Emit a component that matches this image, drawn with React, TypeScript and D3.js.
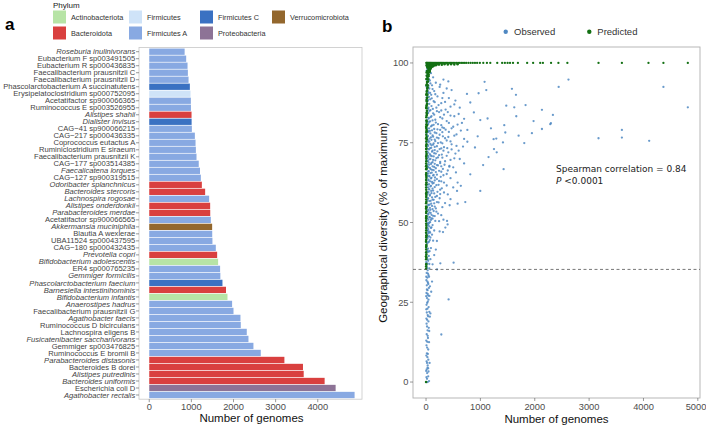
import React from "react";
import * as d3 from "d3";

// ---------- Panel a data ----------
const species: string[] = [
  "Roseburia inulinivorans", "Eubacterium F sp003491505", "Eubacterium R sp000436835",
  "Faecalibacterium prausnitzii C", "Faecalibacterium prausnitzii D",
  "Phascolarctobacterium A succinatutens", "Erysipelatoclostridium sp000752095",
  "Acetatifactor sp900066365", "Ruminococcus E sp003526955", "Alistipes shahii",
  "Dialister invisus", "CAG\u221241 sp900066215", "CAG\u2212217 sp000436335",
  "Coprococcus eutactus A", "Ruminiclostridium E siraeum", "Faecalibacterium prausnitzii K",
  "CAG\u2212177 sp003514385", "Faecalicatena lorques", "CAG\u2212127 sp900319515",
  "Odoribacter splanchnicus", "Bacteroides stercoris", "Lachnospira rogosae",
  "Alistipes onderdonkii", "Parabacteroides merdae", "Acetatifactor sp900066565",
  "Akkermansia muciniphila", "Blautia A wexlerae", "UBA11524 sp000437595",
  "CAG\u2212180 sp000432435", "Prevotella copri", "Bifidobacterium adolescentis",
  "ER4 sp000765235", "Gemmiger formicilis", "Phascolarctobacterium faecium",
  "Barnesiella intestinihominis", "Bifidobacterium infantis", "Anaerostipes hadrus",
  "Faecalibacterium prausnitzii G", "Agathobacter faecis", "Ruminococcus D bicirculans",
  "Lachnospira eligens B", "Fusicatenibacter saccharivorans", "Gemmiger sp003476825",
  "Ruminococcus E bromii B", "Parabacteroides distasonis", "Bacteroides B dorei",
  "Alistipes putredinis", "Bacteroides uniformis", "Escherichia coli D",
  "Agathobacter rectalis",
];
const genomes: number[] = [
  840, 877, 909, 917, 933, 964, 980, 988, 990, 1004,
  1006, 1012, 1083, 1099, 1107, 1122, 1175, 1205, 1225, 1249,
  1327, 1422, 1446, 1448, 1462, 1493, 1495, 1500, 1580, 1612,
  1635, 1682, 1688, 1738, 1822, 1857, 1967, 2000, 2165, 2173,
  2315, 2355, 2473, 2647, 3208, 3649, 3666, 4163, 4424, 4874,
];
const speciesPhylum: string[] = [
  "Firmicutes A", "Firmicutes A", "Firmicutes A", "Firmicutes A", "Firmicutes A",
  "Firmicutes C", "Firmicutes", "Firmicutes A", "Firmicutes A", "Bacteroidota",
  "Firmicutes C", "Firmicutes A", "Firmicutes A", "Firmicutes A", "Firmicutes A",
  "Firmicutes A", "Firmicutes A", "Firmicutes A", "Firmicutes A", "Bacteroidota",
  "Bacteroidota", "Firmicutes A", "Bacteroidota", "Bacteroidota", "Firmicutes A",
  "Verrucomicrobiota", "Firmicutes A", "Firmicutes A", "Firmicutes A", "Bacteroidota",
  "Actinobacteriota", "Firmicutes A", "Firmicutes A", "Firmicutes C", "Bacteroidota",
  "Actinobacteriota", "Firmicutes A", "Firmicutes A", "Firmicutes A", "Firmicutes A",
  "Firmicutes A", "Firmicutes A", "Firmicutes A", "Firmicutes A", "Bacteroidota",
  "Bacteroidota", "Bacteroidota", "Bacteroidota", "Proteobacteria", "Firmicutes A",
];
const italicSpecies: string[] = [
  "Roseburia inulinivorans", "Alistipes shahii", "Dialister invisus", "Faecalicatena lorques",
  "Odoribacter splanchnicus", "Bacteroides stercoris", "Lachnospira rogosae",
  "Alistipes onderdonkii", "Parabacteroides merdae", "Akkermansia muciniphila",
  "Prevotella copri", "Bifidobacterium adolescentis", "Gemmiger formicilis",
  "Phascolarctobacterium faecium", "Barnesiella intestinihominis", "Bifidobacterium infantis",
  "Anaerostipes hadrus", "Agathobacter faecis", "Fusicatenibacter saccharivorans",
  "Parabacteroides distasonis", "Alistipes putredinis", "Bacteroides uniformis",
  "Agathobacter rectalis",
];
const phyla: string[] = [
  "Actinobacteriota", "Bacteroidota", "Firmicutes", "Firmicutes A",
  "Firmicutes C", "Proteobacteria", "Verrucomicrobiota",
];
const phylaColors: string[] = [
  "#b7e4a6", "#d9403f", "#cfe3f8", "#88a9e2", "#3a71c2", "#8d7396", "#93672d",
];
const xTicksA: number[] = [0, 1000, 2000, 3000, 4000];

// ---------- Panel b data ----------
const obsSparse: [number, number][] = [
  [410, 94.2], [1077, 94.1], [1580, 91.9], [1108, 91.5], [753, 90.3], [2440, 92.5],
  [2620, 94.8], [1654, 90], [1476, 86.6], [1623, 86.1], [1831, 86.8], [2132, 85.3],
  [2334, 83.7], [1660, 83.3], [1978, 81.8], [2285, 80.8], [2132, 79.3], [1439, 80.5],
  [1132, 82.6], [998, 82.1], [814, 87.6], [967, 90.5], [1194, 79.5], [1458, 78.2],
  [1703, 77.2], [1948, 78], [1807, 74.9], [1415, 75.1], [1292, 76.3], [1243, 76.1],
  [4367, 92.5], [4816, 86.1], [2297, 81.1], [3603, 79], [3603, 76.6], [3173, 76.4],
  [4105, 75.6], [1427, 66.7], [998, 59.9], [814, 65.1], [722, 56.4], [581, 55.9],
  [570, 59.9], [581, 62.5], [507, 37.4], [202, 35.3], [263, 37.2], [415, 25.9],
  [281, 14.9], [1300, 72], [1150, 70.5], [900, 73.5], [1050, 68], [950, 77],
  [1250, 73], [434, 55.4], [386, 50.5], [397, 49.4], [355, 48.4], [312, 47],
  [428, 67.5], [640, 61.5], [700, 68.5], [760, 79], [880, 84.5],
];
const obsMid: [number, number][] = [
  [320, 94.8], [260, 93.2], [380, 92], [470, 91.5], [300, 89], [540, 88.2], [350, 87.8],
  [450, 86.3], [620, 86], [280, 85.1], [400, 84.6], [520, 83.3], [330, 83.8], [700, 82.5],
  [420, 81.2], [280, 80.5], [580, 80.7], [360, 79.1], [470, 79.5], [640, 78.8], [300, 78.3],
  [520, 77.2], [410, 76.8], [350, 76.4], [760, 75.3], [450, 75.4], [300, 74.8], [560, 74],
  [390, 73.3], [680, 73.8], [470, 72.9], [320, 72.5], [540, 71.6], [380, 70.9], [300, 70.3],
  [450, 69.6], [620, 69.9], [340, 68.1], [500, 67.3], [280, 67.6], [400, 66.3], [550, 65.7],
  [320, 64.8], [450, 63.9], [280, 62.9], [380, 61.6], [500, 61], [330, 59.4], [260, 58.9],
  [450, 57.3], [350, 56.1], [280, 52.3], [320, 50.9], [250, 47.2], [200, 44.2], [180, 41.5],
  [150, 39.8], [120, 36.9], [110, 31.5], [95, 28.3], [130, 44.3],
];
const obsCloud: [number, number][] = [
  [60, 97.5], [90, 96.8], [130, 95.5], [70, 94.5], [180, 93.8], [110, 93], [250, 92.5],
  [60, 92], [150, 91.2], [320, 90.6], [95, 90], [210, 89.5], [420, 89], [75, 88.6],
  [140, 88], [280, 87.4], [520, 87], [100, 86.5], [190, 86], [360, 85.4], [65, 85],
  [240, 84.6], [130, 84.2], [600, 84], [450, 83.5], [85, 83], [300, 82.6], [170, 82.2],
  [380, 81.8], [55, 81.5], [660, 81.2], [220, 80.8], [110, 80.4], [500, 80], [330, 79.6],
  [150, 79.3], [260, 79], [70, 78.7], [420, 78.4], [190, 78], [560, 77.6], [120, 77.3],
  [310, 77], [90, 76.7], [230, 76.4], [700, 76.2], [160, 76], [380, 75.7], [60, 75.4],
  [270, 75.1], [140, 74.8], [470, 74.5], [100, 74.2], [200, 73.9], [330, 73.6], [75, 73.3],
  [250, 73], [160, 72.7], [600, 72.5], [110, 72.2], [410, 72], [180, 71.6], [290, 71.3],
  [85, 71], [140, 70.7], [220, 70.4], [520, 70.1], [60, 69.8], [170, 69.5], [350, 69.2],
  [120, 68.9], [260, 68.6], [90, 68.3], [200, 68], [430, 67.7], [150, 67.4], [70, 67.1],
  [310, 66.8], [110, 66.5], [240, 66.2], [180, 65.8], [80, 65.5], [380, 65.2], [140, 64.9],
  [60, 64.6], [270, 64.3], [100, 64], [200, 63.6], [160, 63.2], [75, 62.9], [330, 62.5],
  [120, 62.2], [230, 61.8], [90, 61.5], [160, 61.1], [290, 60.7], [60, 60.4], [130, 60],
  [210, 59.6], [100, 59.2], [400, 58.8], [70, 58.4], [170, 58], [250, 57.6], [120, 57.2],
  [85, 56.8], [200, 56.4], [150, 56], [65, 55.6], [110, 55.2], [300, 54.8], [180, 54.4],
  [80, 54], [140, 53.6], [60, 53.2], [220, 52.8], [100, 52.4], [160, 52], [70, 51.6],
  [120, 51.2], [90, 50.8], [240, 50.4], [60, 50],
];
const obsCloudDense: [number, number][] = [
  [35, 96.2], [50, 95], [80, 93.6], [45, 92.8], [120, 91.8], [40, 91], [75, 90.6], [170, 90.2],
  [55, 89.4], [105, 88.9], [35, 88.2], [160, 87.7], [60, 87.2], [230, 86.8], [45, 86], [125, 85.6],
  [80, 85.2], [200, 84.9], [40, 84.4], [150, 83.8], [100, 83.3], [260, 83], [50, 82.6], [120, 82],
  [75, 81.7], [180, 81.3], [40, 80.9], [140, 80.6], [90, 80.1], [300, 79.8], [55, 79.5], [210, 79.2],
  [110, 78.9], [45, 78.4], [160, 78.2], [80, 77.9], [250, 77.5], [35, 77.1], [130, 76.9], [200, 76.6],
  [65, 76.3], [100, 75.9], [170, 75.5], [45, 75.2], [220, 74.9], [80, 74.6], [130, 74.4], [40, 74],
  [160, 73.7], [95, 73.4], [280, 73.2], [55, 72.9], [120, 72.5], [210, 72.3], [40, 71.9], [150, 71.7],
  [70, 71.4], [240, 71.1], [105, 70.8], [45, 70.5], [190, 70.2], [80, 69.9], [130, 69.6], [35, 69.3],
  [260, 69], [100, 68.7], [160, 68.4], [55, 68.1], [220, 67.9], [120, 67.6], [40, 67.3], [180, 67],
  [85, 66.7], [140, 66.4], [50, 66.1], [280, 65.9], [105, 65.6], [35, 65.3], [200, 65], [130, 64.7],
  [60, 64.4], [165, 64.1], [90, 63.8], [45, 63.4], [240, 63], [110, 62.7], [140, 62.4], [55, 62],
  [190, 61.7], [80, 61.3], [40, 61], [120, 60.6], [260, 60.3], [95, 59.9], [45, 59.5], [150, 59.1],
  [70, 58.7], [200, 58.3], [110, 57.9], [40, 57.5], [140, 57.1], [60, 56.7], [230, 56.3], [95, 55.9],
  [40, 55.4], [160, 55], [70, 54.6], [120, 54.2], [45, 53.8], [190, 53.4], [85, 53], [40, 52.5],
  [130, 52.1], [60, 51.7], [100, 51.3], [45, 50.9], [170, 50.5], [75, 50.1], [40, 49.6], [120, 49.2],
  [60, 48.8], [90, 48.3], [40, 47.9], [150, 47.5], [65, 47.1], [45, 46.6], [110, 46.2], [55, 45.7],
  [80, 45.3],
];
const obsColumn: [number, number][] = [
  [5, 0], [30, 0], [55, 0.3], [8, 1.5], [20, 2.8], [12, 4], [45, 3.3], [30, 5.2], [10, 6.5],
  [25, 7.8], [15, 9], [40, 10.2], [8, 11.5], [22, 12.6], [35, 13.8], [12, 15], [28, 16.2],
  [50, 17], [10, 18.3], [20, 19.5], [38, 20.6], [14, 21.8], [26, 23], [60, 22], [9, 24.2],
  [32, 25.2], [70, 20.5], [55, 12.5], [65, 6], [80, 21.5],
  [18, 26.3], [40, 27.1], [8, 27.9], [28, 28.8], [52, 29.5], [14, 30.3], [35, 31.1], [6, 31.9],
  [24, 32.7], [45, 33.5], [12, 34.2], [30, 35], [60, 35.6], [9, 36.4], [22, 37.2], [40, 38],
  [15, 38.8], [50, 39.5], [7, 40.3], [28, 41.1], [36, 41.8], [12, 42.6], [20, 43.4], [55, 44],
  [10, 44.8], [33, 45.5], [18, 46.3], [45, 47], [8, 47.8], [26, 48.5], [40, 49.2], [14, 49.9],
  [70, 44.5], [90, 42], [80, 38.5], [75, 46.8], [100, 48.5], [65, 41],
  [18, 1], [40, 1.8], [3, 3.5], [28, 4.5], [18, 6], [42, 7], [5, 8.3], [33, 8.8], [20, 10.8],
  [4, 13], [30, 14.5], [18, 17.4], [6, 19.9], [44, 19], [30, 21], [4, 22.8], [20, 24.8],
  [45, 25.8], [3, 26.9], [30, 27.6], [16, 29], [42, 30.7], [26, 31.5], [4, 33], [36, 34],
  [18, 35.8], [3, 37.6], [30, 38.4], [46, 40.8], [20, 40.9], [4, 42], [38, 43.8], [25, 45],
  [5, 46.6], [32, 47.4], [20, 49.4], [50, 49.8], [3, 44], [60, 37], [55, 33], [62, 27],
  [48, 23.5], [72, 30], [58, 16], [40, 4.3],
  [5, 50.6], [25, 51.3], [12, 52], [40, 52.7], [8, 53.4], [30, 54.1], [18, 54.8], [45, 55.5],
  [6, 56.2], [22, 56.9], [35, 57.6], [10, 58.3], [28, 59], [15, 59.7], [50, 60.4], [7, 61.1],
  [33, 61.8], [20, 62.5], [42, 63.2], [9, 63.9], [26, 64.6], [14, 65.3], [38, 66], [6, 66.7],
  [30, 67.4], [18, 68.1], [48, 68.8], [11, 69.5], [24, 70.2], [36, 70.9], [8, 71.6], [20, 72.3],
  [44, 73], [13, 73.7], [29, 74.4], [6, 75.1], [35, 75.8], [17, 76.5], [26, 77.2], [9, 77.9],
  [40, 78.6], [21, 79.3], [14, 80], [32, 80.7], [7, 81.4], [24, 82.1], [46, 82.8], [12, 83.5],
  [30, 84.2], [18, 84.9], [38, 85.6], [8, 86.3], [25, 87], [15, 87.7], [34, 88.4], [10, 89.1],
  [22, 89.8], [42, 90.5], [13, 91.2], [28, 91.9], [6, 92.6], [19, 93.3], [36, 94], [11, 94.7],
  [24, 95.4], [16, 96.1], [30, 96.8], [9, 97.5], [20, 98.2], [40, 98.9], [14, 99.5],
];
const predCurve: [number, number][] = [
  [0, 0], [2, 35.5], [4, 37], [1, 38.5], [6, 40], [3, 41.5], [5, 43], [2, 44.5], [7, 46],
  [3, 47.5], [5, 49], [1, 50.5], [4, 52], [6, 53.5], [2, 55], [5, 56.5], [3, 58], [7, 59.5],
  [2, 61], [4, 62.5], [6, 64], [3, 65.5], [8, 67], [2, 68.5], [5, 70], [10, 71.5], [3, 73],
  [7, 74.5], [12, 76], [4, 77.5], [9, 79], [14, 80.5], [6, 82], [11, 83.5], [17, 85], [8, 86.5],
  [14, 88], [22, 89.2], [10, 90.3], [19, 91.4], [28, 92.4], [15, 93.3], [35, 94.2], [24, 95],
  [45, 95.8], [32, 96.5], [60, 97.1], [42, 97.6], [80, 98.1], [55, 98.5], [110, 98.8],
  [75, 99.1], [150, 99.3], [100, 99.5], [20, 97.5], [30, 98.5], [50, 99], [65, 99.6],
  [90, 99.2], [130, 99.6], [170, 99.5], [200, 99.8], [230, 99.6], [12, 96], [8, 93], [18, 98.8],
  [1, 36.2], [3, 36.8], [0, 39.4], [4, 39], [2, 40.7], [1, 42.3], [4, 42.6], [0, 44], [3, 45.3],
  [5, 45.8], [1, 46.8], [4, 48.3], [2, 49.6], [0, 51.4], [3, 51.2], [5, 51.8], [2, 53], [0, 54.3],
  [4, 54.8], [1, 56], [3, 57.2], [5, 58.6], [1, 59], [3, 60.3], [0, 61.8], [5, 62], [2, 63.3],
  [4, 64.6], [1, 65], [3, 66.7], [5, 67.8], [1, 67.6], [4, 69.2], [2, 70.6], [6, 71], [3, 72.2],
  [8, 73.2], [1, 74], [5, 75.4], [9, 76.8], [2, 76.4], [6, 78.3], [11, 78.6], [3, 79.6], [7, 80.8],
  [13, 81.6], [4, 83], [9, 84.4], [15, 84], [6, 85.8], [12, 86.8], [18, 87.2], [8, 88.4], [16, 89],
  [24, 90], [12, 91], [22, 92], [30, 93], [18, 94], [40, 94.8], [28, 95.6], [50, 96.3], [38, 96.9],
  [70, 97.5], [48, 98], [90, 98.4], [65, 98.8], [130, 99], [85, 99.4], [180, 99.3], [4, 90],
  [6, 95], [10, 97], [3, 86], [2, 80],
  [10, 99.3], [30, 99.4], [50, 99.3], [80, 99.5], [110, 99.2], [150, 99.6], [190, 99.4],
  [240, 99.5], [290, 99.4], [340, 99.6], [400, 99.5], [460, 99.6], [520, 99.5], [580, 99.6],
];
const predTop: number[] = [
  5, 15, 25, 40, 55, 70, 85, 100, 120, 140, 160, 180, 200, 220, 240, 260, 280, 300, 325, 350,
  375, 400, 425, 450, 475, 500, 530, 560, 590, 620, 650, 680, 710, 740, 780, 820, 860, 900,
  940, 990, 1053, 1120, 1182, 1310, 1400, 1450, 1500, 1545, 1600, 1690, 1860, 1970, 2100,
  2150, 2300, 2435, 2600, 3173, 3603, 4092, 4367, 4816,
];
const xTicksB: number[] = [0, 1000, 2000, 3000, 4000, 5000];
const yTicksB: number[] = [0, 25, 50, 75, 100];
const threshold = 35.3;

const FONT = "'Liberation Sans', Arial, Helvetica, sans-serif";
const AXIS_TXT = "#4d4d4d";
const OBS = "#4f88c2";
const PRED = "#137013";

export default function App() {
  const xA = d3.scaleLinear().domain([-243, 5050]).range([139, 362]);
  const yA = d3.scaleBand<string>().domain(species).range([47.5, 399.2]).paddingInner(0.1).paddingOuter(0.15);
  const color = d3.scaleOrdinal<string, string>().domain(phyla).range(phylaColors);

  const xB = d3.scaleLinear().domain([-240, 5040]).range([413, 700]);
  const yB = d3.scaleLinear().domain([-5, 105]).range([398, 47]);

  const legendCols = [
    [phyla[0], phyla[1]],
    [phyla[2], phyla[3]],
    [phyla[4], phyla[5]],
    [phyla[6]],
  ];
  const legendX = [53, 129, 200, 272];
  const legendY = [10.5, 26.5];
  const obsAll = obsColumn.concat(obsCloud, obsCloudDense, obsMid, obsSparse);

  return (
    <svg width={706} height={425} style={{ position: "absolute", left: 0, top: 0, background: "#fff" }} fontFamily={FONT}>
      <text x={5} y={30} fontSize={17} fontWeight="bold" fill="#000">a</text>
      <text x={382} y={32} fontSize={17} fontWeight="bold" fill="#000">b</text>

      <text x={53} y={7.5} fontSize={8} fill="#222">Phylum</text>
      {legendCols.map((col, ci) =>
        col.map((p, ri) => (
          <g key={p}>
            <rect x={legendX[ci]} y={legendY[ri]} width={13} height={13} fill={color(p)} />
            <text x={legendX[ci] + 18} y={legendY[ri] + 9.2} fontSize={7.3} fill="#333">{p}</text>
          </g>
        ))
      )}

      <rect x={139} y={47.5} width={223} height={351.7} fill="none" stroke="#c8c8c8" strokeWidth={0.8} />
      {species.map((s, i) => (
        <rect key={s} x={xA(0)} y={yA(s)!} width={xA(genomes[i]) - xA(0)} height={yA.bandwidth()} fill={color(speciesPhylum[i])} />
      ))}
      {species.map((s) => {
        const cy = yA(s)! + yA.bandwidth() / 2;
        return (
          <g key={"l" + s}>
            <line x1={136} x2={139} y1={cy} y2={cy} stroke="#555" strokeWidth={0.6} />
            <text x={135.3} y={cy + 2.6} fontSize={7.6} textAnchor="end" fill="#444"
              fontStyle={italicSpecies.includes(s) ? "italic" : "normal"}>{s}</text>
          </g>
        );
      })}
      {xTicksA.map((t) => (
        <g key={"xa" + t}>
          <line x1={xA(t)} x2={xA(t)} y1={399.2} y2={402.2} stroke="#555" strokeWidth={0.6} />
          <text x={xA(t)} y={410.2} fontSize={9.3} textAnchor="middle" fill={AXIS_TXT}>{t}</text>
        </g>
      ))}
      <text x={251.5} y={421.8} fontSize={11.5} textAnchor="middle" fill="#111">Number of genomes</text>

      <circle cx={505.7} cy={31.8} r={2.2} fill={OBS} />
      <text x={514} y={35.2} fontSize={9.5} fill="#333">Observed</text>
      <circle cx={589.3} cy={31.8} r={2.2} fill={PRED} />
      <text x={597.3} y={35.2} fontSize={9.5} fill="#333">Predicted</text>

      <rect x={413} y={47} width={287} height={351} fill="none" stroke="#b0b0b0" strokeWidth={0.9} />
      {xTicksB.map((t) => (
        <g key={"xb" + t}>
          <line x1={xB(t)} x2={xB(t)} y1={398} y2={401} stroke="#555" strokeWidth={0.6} />
          <text x={t === 5000 ? Math.min(xB(t), 696) : xB(t)} y={410.2} fontSize={9.3} textAnchor="middle" fill={AXIS_TXT}>{t}</text>
        </g>
      ))}
      {yTicksB.map((t) => (
        <g key={"yb" + t}>
          <line x1={410} x2={413} y1={yB(t)} y2={yB(t)} stroke="#555" strokeWidth={0.6} />
          <text x={408.5} y={yB(t) + 3.3} fontSize={9.3} textAnchor="end" fill={AXIS_TXT}>{t}</text>
        </g>
      ))}
      <text x={556.5} y={422.5} fontSize={11.5} textAnchor="middle" fill="#111">Number of genomes</text>
      <text transform={`translate(387,222.5) rotate(-90)`} fontSize={11.5} textAnchor="middle" fill="#111">
        Geographical diversity (% of maximum)
      </text>

      <g>
        {obsAll.map((d, i) => (
          <circle key={"o" + i} cx={xB(d[0])} cy={yB(d[1])} r={1.15} fill={OBS} fillOpacity={0.85} />
        ))}
        {predCurve.map((d, i) => (
          <circle key={"p" + i} cx={xB(d[0])} cy={yB(d[1])} r={1.25} fill={PRED} />
        ))}
        {predTop.map((x, i) => (
          <circle key={"t" + i} cx={xB(x)} cy={yB(100)} r={1.15} fill={PRED} />
        ))}
      </g>
      <line x1={413} x2={700} y1={yB(threshold)} y2={yB(threshold)} stroke="#555" strokeWidth={0.8} strokeDasharray="3,2.5" />

      <text x={556} y={171.5} fontSize={9} fill="#222" fontFamily="'DejaVu Sans', Verdana, sans-serif">
        Spearman correlation = 0.84
      </text>
      <text x={556} y={184} fontSize={9} fill="#222" fontFamily="'DejaVu Sans', Verdana, sans-serif">
        <tspan fontStyle="italic">P</tspan> {"<0.0001"}
      </text>
    </svg>
  );
}
